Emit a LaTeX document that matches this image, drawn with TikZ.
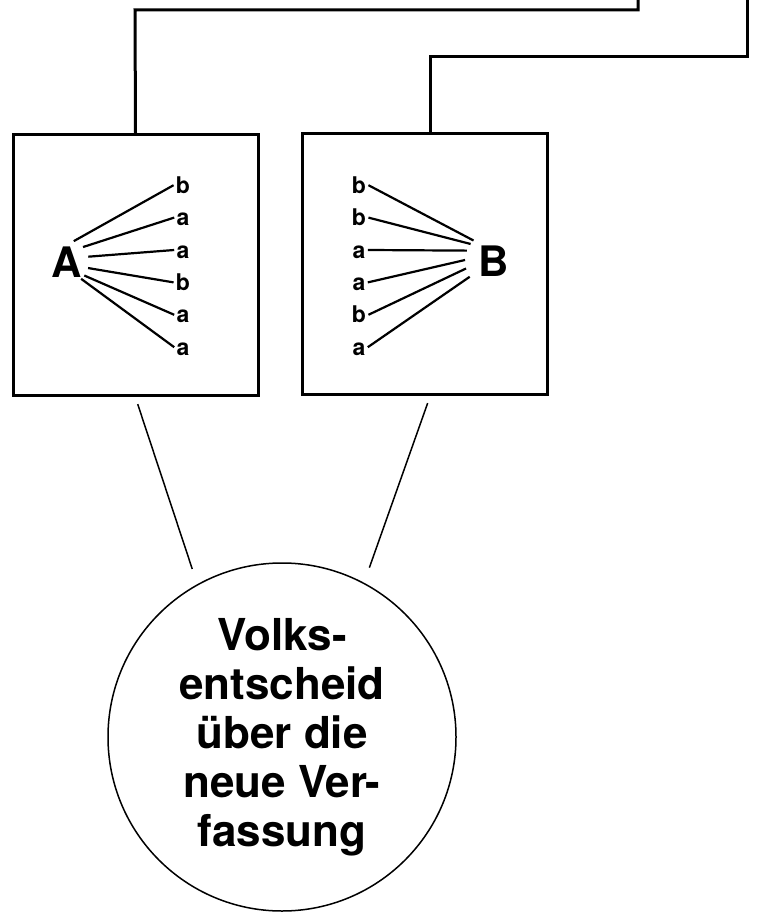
\documentclass[tikz,border=0pt]{standalone}
\usepackage{fontspec}
\setmainfont{TeX Gyre Heros}
\usetikzlibrary{positioning, calc}

\begin{document}
\begin{tikzpicture}[
        x=0.5pt, y=-0.5pt,
        font=\bfseries,
        panel/.style={draw, line width=1.5pt, minimum width=122.5pt, minimum height=130.5pt, inner sep=0pt},
        wire/.style={line width=1.5pt},
        spoke/.style={line width=1.1pt},
        tie/.style={line width=0.75pt},
        head/.style={circle, inner sep=0pt, font=\bfseries\fontsize{21}{21}\selectfont},
        letter/.style={inner sep=1pt, text height=8.2pt, text depth=0pt, anchor=base, font=\bfseries\fontsize{11.5}{11.5}\selectfont},
        vote/.style={draw, circle, line width=0.75pt, minimum size=174pt, align=center, font=\bfseries\fontsize{22}{24.5}\selectfont}
    ]
        \useasboundingbox (0,0) rectangle (756,913);

        \coordinate (kneeA) at (135,10);
        \coordinate (outA) at (638,0);
        \coordinate (kneeB) at (430,57);
        \coordinate (outB) at (747,0);

        \node[panel] (panelA) at (135.5,265.5) {};
        \node[panel] (panelB) at (425,264.5) {};

        \draw[wire] (panelA.north) -- (kneeA) -| (outA);
        \draw[wire] (panelB.north -| kneeB) -- (kneeB) -| (outB);

        \node[head] (headA) at (67,262) {A};
        \node[head, inner sep=2.5pt] (headB) at (494,261) {B};

        \foreach \t [count=\i] in {b,a,a,b,a,a}
            \node[letter] (la\i) at (183, {161+32.4*\i}) {\t};
        \foreach \t [count=\i] in {b,b,a,a,b,a}
            \node[letter] (lb\i) at (359, {161+32.4*\i}) {\t};

        \foreach \ang [count=\i] in {72,43,14,-16,-38,-50}
            \draw[spoke] (headA.\ang) -- (la\i.west);
        \foreach \ang [count=\i] in {135,144,159,178,195,213}
            \draw[spoke] (headB.\ang) -- (lb\i.east);

        \node[vote] (vote) at (282,737) {Volks-\\entscheid\\über die\\neue Ver-\\fassung};

        \draw[tie, shorten <=3.5pt, shorten >=8pt] (panelA.south) -- (vote.119);
        \draw[tie, shorten <=3.5pt, shorten >=8pt] (panelB.south -| kneeB) -- (vote.62);

    \end{tikzpicture}
\end{document}
